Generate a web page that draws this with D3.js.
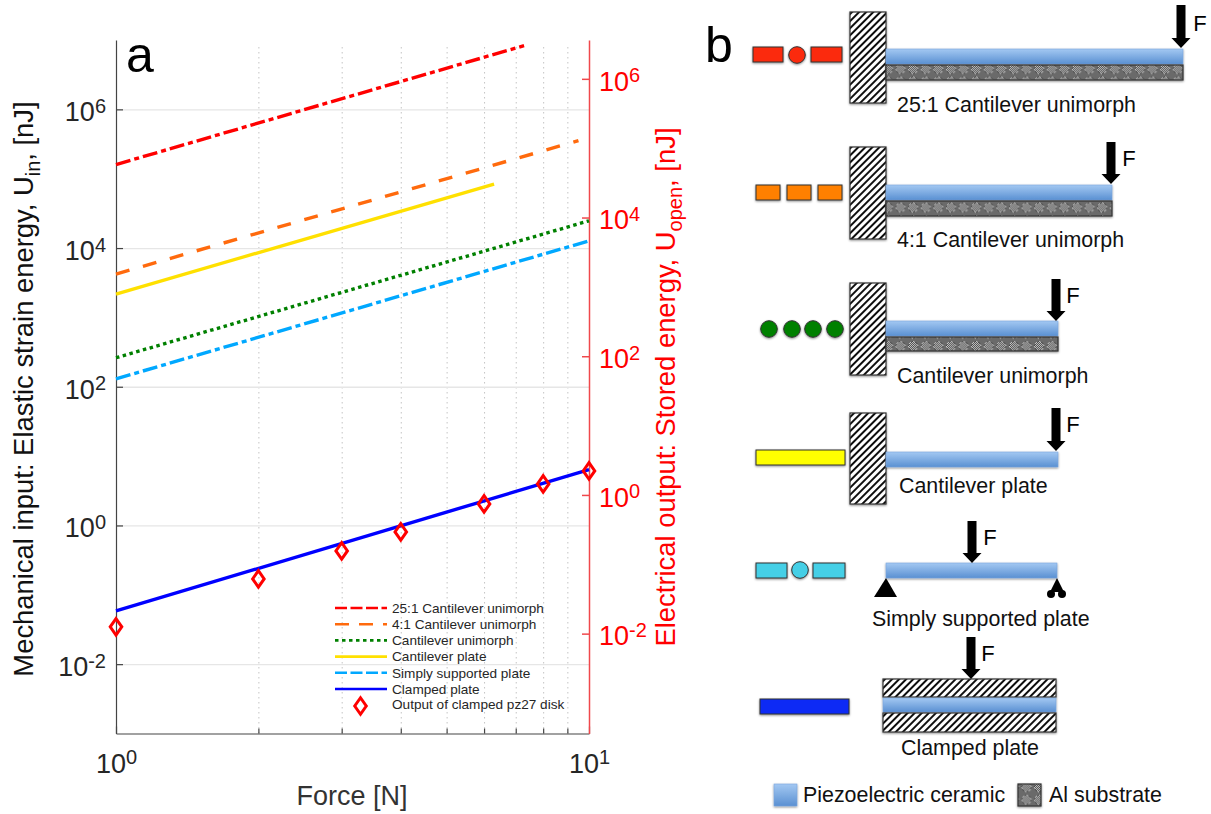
<!DOCTYPE html>
<html>
<head>
<meta charset="utf-8">
<script src="https://cdn.jsdelivr.net/npm/d3@7"></script>
<style>
  html, body { margin: 0; background: #fff; }
  svg { display: block; font-family: "Liberation Sans", Arial, sans-serif; }
  .tickLabel { font-size: 27px; }
</style>
</head>
<body>
<div class="visHolder"></div>
<script>
const width = 1211,
  height = 814;

// values, force in N and energy in nJ
const names = [
  "25:1 Cantilever unimorph",
  "4:1 Cantilever unimorph",
  "Cantilever unimorph",
  "Cantilever plate",
  "Simply supported plate",
  "Clamped plate",
];
const forceEnds = [
  [1, 7.29],
  [1, 9.5],
  [1, 10],
  [1, 6.3],
  [1, 10],
  [1, 10],
];
const energyEnds = [
  [1.6e5, 8.3e6],
  [4220, 3.54e5],
  [262, 2.47e4],
  [2170, 8.36e4],
  [130, 1.27e4],
  [0.0586, 6.4],
];
const lineColors = ["#ff0000", "#ff6a0d", "#008000", "#ffe000", "#00a8ff", "#0000ff"];
const lineDashes = ["15,4,5,4", "14,14", "3.5,3.5", "none", "15,4,5,4", "none"];
const legendDashes = ["12,3.5", "14,10", "3.5,3.5", "none", "12,3.5", "none"];

const diskName = "Output of clamped pz27 disk";
const diskForce = [1, 2, 3, 4, 6, 8, 10];
const diskEnergy = [0.01253, 0.0616, 0.156, 0.293, 0.741, 1.44, 2.22];

const xTicks = [1, 10];
const xMinor = [2, 3, 4, 5, 6, 7, 8, 9];
const yTicks = [1e-2, 1, 1e2, 1e4, 1e6];

const svg = d3
  .select(".visHolder")
  .append("svg")
  .attr("width", width)
  .attr("height", height);

const defs = svg.append("defs");

const hatch = defs
  .append("pattern")
  .attr("id", "hatch")
  .attr("patternUnits", "userSpaceOnUse")
  .attr("width", 5)
  .attr("height", 5)
  .attr("patternTransform", "rotate(45)");
hatch.append("rect").attr("width", 5).attr("height", 5).attr("fill", "#fff");
hatch.append("rect").attr("width", 2).attr("height", 5).attr("fill", "#111");

// fine grey with round checkered spots, like the substrate fill
const checker = defs
  .append("pattern")
  .attr("id", "checker")
  .attr("patternUnits", "userSpaceOnUse")
  .attr("width", 12.6)
  .attr("height", 12.6);
checker.append("rect").attr("width", 12.6).attr("height", 12.6).attr("fill", "#6a6a6a");
d3.range(12).forEach((i) => {
  d3.range(12).forEach((j) => {
    if (Math.hypot(i - 5.5, j - 5.5) < 4.6) {
      checker
        .append("rect")
        .attr("x", i)
        .attr("y", j)
        .attr("width", 1)
        .attr("height", 1)
        .attr("fill", (i + j) % 2 ? "#f0f0f0" : "#303030");
    }
  });
});

const ceramic = defs
  .append("linearGradient")
  .attr("id", "ceramic")
  .attr("x1", 0)
  .attr("y1", 0)
  .attr("x2", 0)
  .attr("y2", 1);
ceramic.append("stop").attr("offset", "0%").attr("stop-color", "#a3c8f2");
ceramic.append("stop").attr("offset", "100%").attr("stop-color", "#5a90d2");

defs
  .append("filter")
  .attr("id", "shadow")
  .attr("x", "-20%")
  .attr("y", "-30%")
  .attr("width", "140%")
  .attr("height", "170%")
  .append("feDropShadow")
  .attr("dx", 0)
  .attr("dy", 1)
  .attr("stdDeviation", 1)
  .attr("flood-opacity", 0.45);

// ---- panel a ----
const plotLeft = 116,
  plotRight = 589,
  plotTop = 40,
  plotBottom = 733.5;

const xScale = d3.scaleLog().domain([1, 10]).range([plotLeft, plotRight]);
const yScale = d3.scaleLog().domain([1e-3, 1e7]).range([plotBottom, plotTop]);
const yScaleRight = d3.scaleLog().domain([10 ** -3.44, 10 ** 6.56]).range([plotBottom, plotTop]);

const power = (d) => Math.round(Math.log10(d));

const powerLabels = (axisGroup, anchor, dy) => {
  axisGroup.selectAll("text").each(function (d) {
    const label = d3
      .select(this)
      .text("")
      .attr("class", "tickLabel")
      .attr("text-anchor", anchor);
    if (dy) label.attr("dy", dy);
    label.append("tspan").text("10");
    label
      .append("tspan")
      .attr("dy", "-0.42em")
      .attr("font-size", "20px")
      .text(power(d));
  });
};

// grid
svg
  .append("g")
  .attr("transform", "translate(0," + plotBottom + ")")
  .call(d3.axisBottom(xScale).tickValues(xMinor).tickSize(plotTop + 5 - plotBottom).tickFormat(""))
  .call((g) => g.select(".domain").remove())
  .call((g) =>
    g.selectAll("line").attr("stroke", "#c4c4c4").attr("stroke-dasharray", "1.5,3.5")
  );

svg
  .append("g")
  .attr("transform", "translate(" + plotLeft + ",0)")
  .call(d3.axisLeft(yScale).tickValues(yTicks).tickSize(plotLeft - plotRight).tickFormat(""))
  .call((g) => g.select(".domain").remove())
  .call((g) => g.selectAll("line").attr("stroke", "#e6e6e6").attr("stroke-width", 1.3));

// axes
const xAxis = svg
  .append("g")
  .attr("transform", "translate(0," + plotBottom + ")")
  .call(d3.axisBottom(xScale).tickValues(xTicks).tickSizeInner(-7).tickSizeOuter(0).tickPadding(20));
xAxis.call(powerLabels, "middle");

const xAxisMinor = svg
  .append("g")
  .attr("transform", "translate(0," + plotBottom + ")")
  .call(d3.axisBottom(xScale).tickValues(xMinor).tickSize(-5).tickFormat(""))
  .call((g) => g.select(".domain").remove());

const yAxis = svg
  .append("g")
  .attr("transform", "translate(" + plotLeft + ",0)")
  .call(d3.axisLeft(yScale).tickValues(yTicks).tickSizeInner(-7).tickSizeOuter(0).tickPadding(10));
yAxis.call(powerLabels, "end", "0.42em");

const yAxisRight = svg
  .append("g")
  .attr("transform", "translate(" + plotRight + ",0)")
  .call(d3.axisRight(yScaleRight).tickValues(yTicks).tickSizeInner(-7).tickSizeOuter(0).tickPadding(10));
yAxisRight.call(powerLabels, "start", "0.42em");

[xAxis, xAxisMinor, yAxis].forEach((g) => {
  g.selectAll(".domain, line").attr("stroke", "#444").attr("stroke-width", 1.2);
  g.selectAll("text").attr("fill", "#262626");
});

yAxisRight.selectAll(".domain, line").attr("stroke", "#f0484c").attr("stroke-width", 1.5);
yAxisRight.selectAll("text").attr("fill", "#ff0000");

// lines
const line = d3
  .line()
  .x((d) => xScale(d[0]))
  .y((d) => yScale(d[1]));

names.forEach((name, i) => {
  svg
    .append("path")
    .attr("class", "series")
    .datum(d3.zip(forceEnds[i], energyEnds[i]))
    .attr("d", line)
    .attr("fill", "none")
    .attr("stroke", lineColors[i])
    .attr("stroke-width", 3.4)
    .attr("stroke-dasharray", lineDashes[i]);
});

// the marker is wider than d3.symbolDiamond
const wideDiamond = {
  draw(context, size) {
    const h = Math.sqrt(size),
      w = h * 0.7;
    context.moveTo(0, -h);
    context.lineTo(w, 0);
    context.lineTo(0, h);
    context.lineTo(-w, 0);
    context.closePath();
  },
};
const diamond = d3.symbol().type(wideDiamond).size(68);

svg
  .selectAll(".dot")
  .data(d3.zip(diskForce, diskEnergy))
  .enter()
  .append("path")
  .attr("class", "dot")
  .attr("d", diamond)
  .attr("transform", (d) => "translate(" + xScale(d[0]) + "," + yScaleRight(d[1]) + ")")
  .attr("fill", "none")
  .attr("stroke", "#ff0000")
  .attr("stroke-width", 3);

// legend
const legend = svg.append("g").attr("id", "legend").attr("transform", "translate(335,608)");
const legendRow = 16.2;

names.forEach((name, i) => {
  legend
    .append("line")
    .attr("x2", 52)
    .attr("y1", i * legendRow)
    .attr("y2", i * legendRow)
    .attr("stroke", lineColors[i])
    .attr("stroke-width", 2.6)
    .attr("stroke-dasharray", legendDashes[i]);
  legend
    .append("text")
    .attr("x", 57)
    .attr("y", i * legendRow)
    .attr("dy", "0.35em")
    .attr("font-size", 13.6)
    .attr("fill", "#262626")
    .text(name);
});
legend
  .append("path")
  .attr("d", diamond)
  .attr("transform", "translate(25.5,98)")
  .attr("fill", "none")
  .attr("stroke", "#ff0000")
  .attr("stroke-width", 3);
legend
  .append("text")
  .attr("x", 57)
  .attr("y", 96.5)
  .attr("dy", "0.35em")
  .attr("font-size", 13.6)
  .attr("fill", "#262626")
  .text(diskName);

// axis titles
svg
  .append("text")
  .attr("x", 352)
  .attr("y", 805)
  .attr("text-anchor", "middle")
  .attr("font-size", 27)
  .attr("fill", "#333")
  .text("Force [N]");

const verticalTitle = (x, y, color, before, sub, after) => {
  const t = svg
    .append("text")
    .attr("transform", "translate(" + x + "," + y + ") rotate(-90)")
    .attr("text-anchor", "middle")
    .attr("font-size", 27.4)
    .attr("fill", color);
  t.append("tspan").text(before);
  t.append("tspan").attr("dy", 7).attr("font-size", 20).text(sub);
  t.append("tspan").attr("dy", -7).text(after);
};
verticalTitle(33, 389, "#111", "Mechanical input: Elastic strain energy, U", "in", ", [nJ]");
verticalTitle(675, 387, "#ff0000", "Electrical output: Stored energy, U", "open", ", [nJ]");

svg.append("text").attr("x", 126).attr("y", 72).attr("font-size", 50).text("a");
svg.append("text").attr("x", 705).attr("y", 62).attr("font-size", 50).text("b");

// ---- panel b ----
const panel = svg.append("g").attr("id", "schematics");

const box = (x0, y0, x1, y1, fill, stroke, sw) =>
  panel
    .append("rect")
    .attr("x", x0)
    .attr("y", y0)
    .attr("width", x1 - x0)
    .attr("height", y1 - y0)
    .attr("fill", fill)
    .attr("stroke", stroke || "#333")
    .attr("stroke-width", sw === undefined ? 1 : sw)
    .attr("filter", "url(#shadow)");

const wall = (y0, y1) => box(850, y0, 886, y1, "url(#hatch)", "#333", 1.2);
const piezo = (x0, y0, x1, y1) => box(x0, y0, x1, y1, "url(#ceramic)", "#7ba6dc", 0.6);
const metal = (x0, y0, x1, y1) => box(x0, y0, x1, y1, "url(#checker)", "#333", 1.2);
const dotSwatch = (cx, cy, fill) =>
  panel
    .append("circle")
    .attr("cx", cx)
    .attr("cy", cy)
    .attr("r", 8.3)
    .attr("fill", fill)
    .attr("stroke", "#333")
    .attr("filter", "url(#shadow)");

const arrow = (x, y0, y1, fx, fy) => {
  panel
    .append("path")
    .attr(
      "d",
      d3.line()([
        [x - 4.5, y0],
        [x + 4.5, y0],
        [x + 4.5, y1 - 10],
        [x + 9.5, y1 - 10],
        [x, y1],
        [x - 9.5, y1 - 10],
        [x - 4.5, y1 - 10],
      ]) + "Z"
    )
    .attr("fill", "#000");
  panel
    .append("text")
    .attr("x", fx)
    .attr("y", fy)
    .attr("dy", "0.36em")
    .attr("text-anchor", "middle")
    .attr("font-size", 22)
    .text("F");
};

const caption = (x, y, text) =>
  panel
    .append("text")
    .attr("x", x)
    .attr("y", y)
    .attr("font-size", 21.4)
    .attr("fill", "#111")
    .text(text);

// 25:1 unimorph
box(753, 47, 783, 62, "#fb2a0b");
dotSwatch(797, 55, "#fb2a0b");
box(811, 47, 842, 62, "#fb2a0b");
wall(12, 103);
piezo(886, 49, 1183, 64);
metal(886, 65, 1183, 80);
arrow(1181, 5, 48, 1200, 23);
caption(897, 112, names[0]);

// 4:1 unimorph
box(756, 185, 780, 200, "#ff8000");
box(787, 185, 811, 200, "#ff8000");
box(818, 185, 842, 200, "#ff8000");
wall(147, 239);
piezo(886, 185, 1112, 200);
metal(886, 201, 1112, 216);
arrow(1111, 142, 184, 1129, 158);
caption(897, 247, names[1]);

// unimorph
[769, 792, 813, 835].forEach((cx) => dotSwatch(cx, 329, "#008000"));
wall(283, 375);
piezo(886, 321, 1058, 336);
metal(886, 337, 1058, 351);
arrow(1056, 279, 321, 1073, 295);
caption(897, 383, names[2]);

// cantilever plate
box(756, 450, 845, 465, "#ffff00");
wall(413, 504);
piezo(886, 452, 1058, 467);
arrow(1056, 408, 451, 1073, 424);
caption(899, 493, names[3]);

// simply supported
box(756, 563, 787, 578, "#44cfe6");
dotSwatch(800, 570, "#44cfe6");
box(813, 563, 845, 578, "#44cfe6");
piezo(886, 563, 1057, 578);
arrow(972, 521, 563, 990, 537);
panel.append("path").attr("d", "M886,578L897,597L874,597Z").attr("fill", "#000");
panel.append("path").attr("d", "M1057,578L1064,592L1050,592Z").attr("fill", "#000");
panel.append("circle").attr("cx", 1051).attr("cy", 594).attr("r", 4).attr("fill", "#000");
panel.append("circle").attr("cx", 1062).attr("cy", 594).attr("r", 4).attr("fill", "#000");
caption(872, 626, names[4]);

// clamped
box(760, 699, 849, 714, "#0a2cf5");
box(883, 679, 1056, 697, "url(#hatch)", "#333", 1.2);
piezo(883, 698, 1056, 712);
box(883, 713, 1056, 732, "url(#hatch)", "#333", 1.2);
arrow(971, 637, 679, 988, 653);
caption(901, 755, names[5]);

// key
piezo(774, 784, 797, 806);
caption(803, 802, "Piezoelectric ceramic");
metal(1018, 784, 1041, 806);
caption(1049, 802, "Al substrate");
</script>
</body>
</html>
